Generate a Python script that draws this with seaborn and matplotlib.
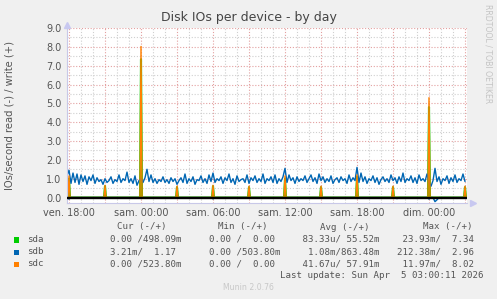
import numpy as np
import pandas as pd
import matplotlib
matplotlib.use("Agg")
import matplotlib.pyplot as plt
from matplotlib.patches import Rectangle
import seaborn as sns

# ---------------- data ----------------
start_time = "2026-04-03 17:50"
end_time = "2026-04-05 03:10"

# sdb writes, 10-minute samples from start_time
sdb_write = [
    1.15, 1.45, 0.75, 1.30, 0.80, 1.25, 0.70, 1.20, 0.85, 1.15,
    0.70, 1.10, 0.90, 1.20, 0.75, 1.05, 0.85, 0.95, 0.70, 1.00,
    0.80, 0.90, 1.10, 0.75, 0.95, 0.85, 1.20, 0.80, 1.00, 0.90,
    1.35, 0.80, 1.00, 0.75, 1.15, 0.65, 0.90, 1.00, 0.80, 1.05,
    1.50, 0.85, 1.20, 0.80, 1.00, 0.75, 0.95, 0.85, 1.10, 0.80,
    0.95, 0.75, 1.05, 0.85, 1.00, 0.70, 0.90, 1.05, 0.80, 1.25,
    0.75, 1.00, 0.85, 1.10, 0.70, 0.95, 0.90, 1.15, 0.80, 1.00,
    0.75, 1.20, 0.85, 1.30, 0.80, 1.00, 0.90, 1.10, 0.75, 1.05,
    0.90, 1.25, 0.80, 1.00, 0.70, 1.15, 0.85, 0.95, 1.00, 0.80,
    1.20, 0.75, 1.05, 0.90, 1.15, 0.80, 1.00, 0.85, 1.25, 0.75,
    1.00, 0.90, 1.10, 0.80, 1.20, 0.75, 1.00, 0.85, 1.10, 1.55,
    0.80, 1.20, 0.90, 1.05, 0.75, 1.10, 0.85, 1.00, 0.90, 1.15,
    0.80, 1.00, 1.20, 0.85, 1.05, 0.75, 1.25, 0.90, 1.10, 0.80,
    1.00, 0.85, 1.15, 0.75, 0.95, 1.05, 0.80, 1.10, 0.90, 1.00,
    0.75, 1.20, 0.85, 1.05, 0.90, 1.60, 0.80, 1.30, 0.85, 1.10,
    0.75, 1.00, 0.90, 1.15, 0.80, 1.05, 0.70, 0.95, 1.10, 0.85,
    1.00, 0.80, 1.20, 0.90, 1.05, 0.75, 1.10, 0.85, 1.30, 0.80,
    1.00, 0.90, 1.15, 0.80, 1.05, 0.75, 1.20, 0.90, 1.00, 0.85,
    1.25, 0.80, 0.60, 0.90, 1.55, 0.85, 1.10, 0.70, 1.00, 0.90,
    1.15, 0.75, 1.05, 0.85, 1.20, 0.80, 1.00, 0.90, 1.25, 0.85,
]

# sdb reads (plotted negative): occasional small values
sdb_read_times = ["2026-04-03 18:00", "2026-04-04 00:00", "2026-04-04 06:00",
                  "2026-04-04 18:00", "2026-04-04 21:20", "2026-04-05 00:00",
                  "2026-04-05 00:30", "2026-04-05 00:40"]
sdb_read_values = [0.08, 0.05, 0.07, 0.05, 0.06, 0.08, 0.22, 0.12]

# sda / sdc periodic write bursts (5-minute samples, zero elsewhere)
burst_times = ["2026-04-03 18:00", "2026-04-03 21:00", "2026-04-04 00:00",
               "2026-04-04 03:00", "2026-04-04 06:00", "2026-04-04 09:00",
               "2026-04-04 12:00", "2026-04-04 15:00", "2026-04-04 18:00",
               "2026-04-04 21:00", "2026-04-05 00:00", "2026-04-05 03:00"]
sda_burst = [1.00, 0.60, 7.34, 0.55, 0.60, 0.55, 1.00, 0.55, 1.10, 0.55, 4.80, 0.55]
sdc_burst = [1.15, 0.65, 8.02, 0.60, 0.65, 0.60, 1.15, 0.60, 1.20, 0.60, 5.30, 0.60]

tick_times = ["2026-04-03 18:00", "2026-04-04 00:00", "2026-04-04 06:00",
              "2026-04-04 12:00", "2026-04-04 18:00", "2026-04-05 00:00"]
tick_labels = ["ven. 18:00", "sam. 00:00", "sam. 06:00",
               "sam. 12:00", "sam. 18:00", "dim. 00:00"]

devices = ["sda", "sdb", "sdc"]
colors = ["#00CC00", "#0066B3", "#FF8000"]
legend_cur = ["  0.00 /498.09m", "  3.21m/  1.17 ", "  0.00 /523.80m"]
legend_min = ["  0.00 /  0.00 ", "  0.00 /503.80m", "  0.00 /  0.00 "]
legend_avg = [" 83.33u/ 55.52m", "  1.08m/863.48m", " 41.67u/ 57.91m"]
legend_max = [" 23.93m/  7.34 ", "212.38m/  2.96 ", " 11.97m/  8.02 "]

title = "Disk IOs per device - by day"
ylabel = "IOs/second read (-) / write (+)"
last_update = "Last update: Sun Apr  5 03:00:11 2026"

# ---------------- build series ----------------
t10 = pd.date_range(start_time, periods=len(sdb_write), freq="10min")
sdb_w = pd.Series(sdb_write, index=t10)
sdb_r = pd.Series(0.0, index=t10)
for t, v in zip(sdb_read_times, sdb_read_values):
    sdb_r[pd.Timestamp(t)] = -v

t5 = pd.date_range(start_time, end_time, freq="5min")
sda_w = pd.Series(0.0, index=t5)
sdc_w = pd.Series(0.0, index=t5)
for t, a, c in zip(burst_times, sda_burst, sdc_burst):
    sda_w[pd.Timestamp(t)] = a
    sdc_w[pd.Timestamp(t)] = c

# ---------------- figure ----------------
sns.set_theme(style="white")
plt.rcParams["font.family"] = ["DejaVu Sans"]
W, H = 497, 299
fig = plt.figure(figsize=(W / 100, H / 100), dpi=100, facecolor="#F0F0F0")

def fx(x):
    return x / W

def fy(y):
    return 1 - y / H

ax_l, ax_r, ax_t, ax_b = 67, 467, 28, 202.8
ax = fig.add_axes([fx(ax_l), fy(ax_b), (ax_r - ax_l) / W, (ax_b - ax_t) / H])
ax.set_facecolor("white")

x0, x1 = pd.Timestamp(start_time), pd.Timestamp(end_time)
ax.set_xlim(x0, x1)
ax.set_ylim(-0.28, 9.0)

# grid
red = "#E3A0A0"
grey = "#CFCFCF"
dot = (0, (1, 1.6))
for h in pd.date_range("2026-04-03 18:00", end_time, freq="1h"):
    major = (h.hour % 3 == 0)
    ax.axvline(h, color=red if major else grey, lw=0.8, ls=dot, zorder=0)
for yv in np.arange(0.5, 9.01, 0.5):
    major = abs(yv - round(yv)) < 1e-6
    ax.axhline(yv, color=red if major else grey, lw=0.8, ls=dot, zorder=0)

# series
sns.lineplot(x=sda_w.index, y=sda_w.values, ax=ax, color=colors[0], lw=1.5)
sns.lineplot(x=sdb_r.index, y=sdb_r.values, ax=ax, color=colors[1], lw=1)
sns.lineplot(x=sdb_w.index, y=sdb_w.values, ax=ax, color=colors[1], lw=1)
sns.lineplot(x=sdc_w.index, y=sdc_w.values, ax=ax, color=colors[2], lw=1.0)
ax.axhline(0, color="black", lw=1.7, zorder=5)

# axes styling
for s in ["top", "right"]:
    ax.spines[s].set_visible(False)
ax.spines["left"].set_color("#C8C8E8")
ax.spines["bottom"].set_color("#C8C8E8")
ax.spines["left"].set_linewidth(0.8)
ax.spines["bottom"].set_linewidth(0.8)
ax.plot([0], [1.02], marker="^", color="#C8C8F0", ms=4, transform=ax.transAxes, clip_on=False)
ax.plot([1.015], [0], marker=">", color="#C8C8F0", ms=4, transform=ax.transAxes, clip_on=False)

ax.set_yticks(np.arange(0, 9.01, 1.0))
ax.set_yticklabels([f"{v:.1f}" for v in np.arange(0, 9.01, 1.0)])
ax.set_xticks([pd.Timestamp(t) for t in tick_times])
ax.set_xticklabels(tick_labels)
ax.tick_params(axis="both", labelsize=7, colors="#555555", length=2, width=0.6, pad=2)
ax.tick_params(axis="both", color="#E09090")
ax.set_xlabel("")
ax.set_ylabel("")

# texts
fig.text(fx(249), fy(18), title, ha="center", va="center", fontsize=9, color="#444444")
fig.text(fx(10), fy(115), ylabel, ha="center", va="center", rotation=90,
         fontsize=7.2, color="#555555")
fig.text(fx(488), fy(54), "RRDTOOL / TOBI OETIKER", ha="center", va="center",
         rotation=270, fontsize=5.6, color="#C4C4C4")

mono = "DejaVu Sans Mono"
fs = 6.6
txt = "#555555"
fig.text(fx(117), fy(227), "Cur (-/+)", family=mono, fontsize=fs, color=txt, va="center")
fig.text(fx(218), fy(227), "Min (-/+)", family=mono, fontsize=fs, color=txt, va="center")
fig.text(fx(320), fy(227), "Avg (-/+)", family=mono, fontsize=fs, color=txt, va="center")
fig.text(fx(423), fy(227), "Max (-/+)", family=mono, fontsize=fs, color=txt, va="center")
rows_y = [239.5, 252, 264]
for i, dev in enumerate(devices):
    y = rows_y[i]
    fig.patches.append(Rectangle((fx(13.5), fy(y + 3)), 5.5 / W, 5.5 / H,
                                 transform=fig.transFigure, facecolor=colors[i],
                                 edgecolor="none"))
    fig.text(fx(27), fy(y), dev, family=mono, fontsize=fs, color=txt, va="center")
    fig.text(fx(99), fy(y), legend_cur[i], family=mono, fontsize=fs, color=txt, va="center")
    fig.text(fx(198), fy(y), legend_min[i], family=mono, fontsize=fs, color=txt, va="center")
    fig.text(fx(297), fy(y), legend_avg[i], family=mono, fontsize=fs, color=txt, va="center")
    fig.text(fx(397), fy(y), legend_max[i], family=mono, fontsize=fs, color=txt, va="center")
fig.text(fx(483), fy(275.5), last_update, family=mono, fontsize=fs, color=txt,
         va="center", ha="right")
fig.text(fx(248), fy(288), "Munin 2.0.76", fontsize=5.6, color="#C8C8C8",
         ha="center", va="center")

fig.savefig("out.png", dpi=100, facecolor=fig.get_facecolor())
